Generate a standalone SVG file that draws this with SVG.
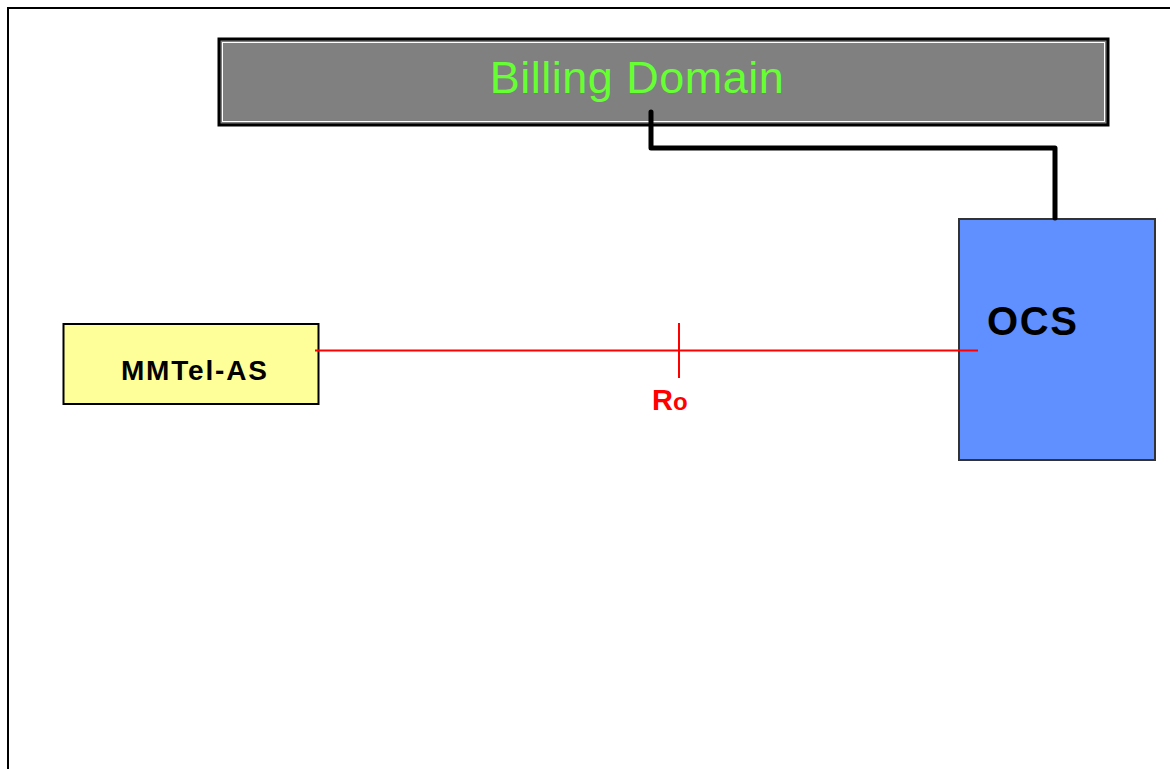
<svg xmlns="http://www.w3.org/2000/svg" width="1170" height="769" viewBox="0 0 1170 769">
<style>
.lbl{font-family:"Liberation Sans",Arial,sans-serif;font-weight:bold;fill:#000}
</style>
<rect x="0" y="0" width="1170" height="769" fill="#fff"/>
<rect x="8" y="8" width="1180" height="800" fill="none" stroke="#000" stroke-width="2"/>
<g id="billing">
<rect x="219" y="39" width="889" height="86" fill="#808080" stroke="#000" stroke-width="3"/>
<rect x="222.5" y="42.5" width="882" height="79" fill="none" stroke="#fff" stroke-width="1"/>
<text x="637" y="93" text-anchor="middle" font-family="Liberation Sans, Arial, sans-serif" font-size="45" letter-spacing="0.5" fill="#66FF33">Billing Domain</text>
</g>
<g id="ocs">
<rect x="959" y="219" width="196" height="241" fill="#6090FF" stroke="#333" stroke-width="2"/>
<text class="lbl" x="987" y="335" font-size="40" letter-spacing="1.6">OCS</text>
</g>
<g id="mmtel">
<rect x="63.5" y="324" width="255" height="80" fill="#FFFF99" stroke="#000" stroke-width="2"/>
<text class="lbl" x="121" y="380" font-size="28" letter-spacing="1.8">MMTel-AS</text>
</g>
<g id="connectors">
<polyline points="651,112 651,148 1055,148 1055,218" fill="none" stroke="#000" stroke-width="5" stroke-linejoin="round" stroke-linecap="round"/>
<line x1="315" y1="350.5" x2="978" y2="350.5" stroke="#f00" stroke-width="2"/>
<line x1="679" y1="323" x2="679" y2="378" stroke="#f00" stroke-width="2"/>
<text x="652" y="410" font-family="Liberation Sans, Arial, sans-serif" font-weight="bold" font-size="29" fill="#f00">R<tspan font-size="24">o</tspan></text>
</g>
</svg>
